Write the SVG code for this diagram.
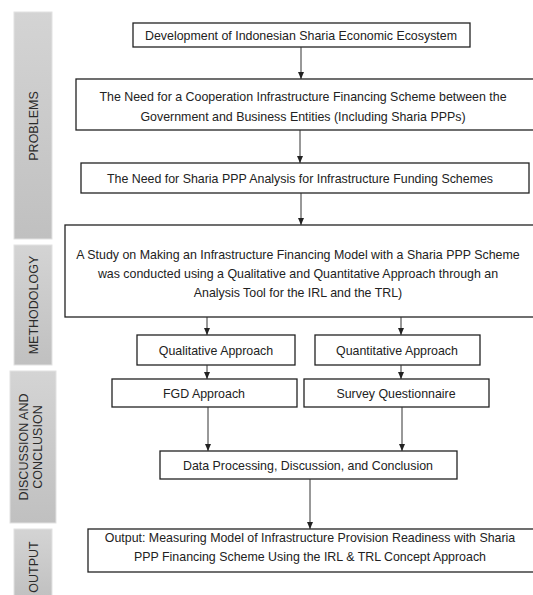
<svg xmlns="http://www.w3.org/2000/svg" width="533" height="595" viewBox="0 0 533 595">
<defs>
<linearGradient id="g" x1="0" y1="0" x2="0" y2="1">
<stop offset="0" stop-color="#d4d4d4"/>
<stop offset="1" stop-color="#c0c0c0"/>
</linearGradient>
<marker id="a" markerWidth="8" markerHeight="8" refX="7" refY="4" orient="auto" markerUnits="userSpaceOnUse">
<path d="M0,1 L7,4 L0,7 Z" fill="#222"/>
</marker>
<style>
.bar{fill:url(#g);stroke:#e2e2e2;stroke-width:1}
.bt{font-family:"Liberation Sans",Arial,sans-serif;font-size:12.5px;fill:#2a2a2a;text-anchor:middle}
.box{fill:#fff;stroke:#222;stroke-width:1.3}
.t{font-family:"Liberation Sans",Arial,sans-serif;font-size:12.4px;fill:#222;text-anchor:middle}
.c{stroke:#333;stroke-width:1;fill:none;marker-end:url(#a)}
</style>
</defs>
<rect width="533" height="595" fill="#fff"/>
<g id="side-problems"><rect class="bar" x="14" y="12" width="38" height="227"/><text class="bt" transform="translate(37.5,126) rotate(-90)">PROBLEMS</text></g>
<g id="side-methodology"><rect class="bar" x="14" y="245" width="38" height="120"/><text class="bt" transform="translate(37.5,305) rotate(-90)">METHODOLOGY</text></g>
<g id="side-discussion"><rect class="bar" x="10" y="371" width="46" height="152"/><text class="bt" transform="translate(28,447) rotate(-90)">DISCUSSION AND</text><text class="bt" transform="translate(42,447) rotate(-90)">CONCLUSION</text></g>
<g id="side-output"><rect class="bar" x="14" y="529" width="38" height="70"/><text class="bt" transform="translate(37.5,567) rotate(-90)">OUTPUT</text></g>

<g id="n1"><rect class="box" x="133" y="23" width="337" height="24"/><text class="t" x="301" y="39.5">Development of Indonesian Sharia Economic Ecosystem</text></g>
<g id="n2"><rect class="box" x="76" y="79" width="460" height="51"/><text class="t" x="303" y="101">The Need for a Cooperation Infrastructure Financing Scheme between the</text><text class="t" x="303" y="121">Government and Business Entities (Including Sharia PPPs)</text></g>
<g id="n3"><rect class="box" x="81" y="163" width="448" height="30"/><text class="t" x="300" y="182.5">The Need for Sharia PPP Analysis for Infrastructure Funding Schemes</text></g>
<g id="n4"><rect class="box" x="65" y="225" width="471" height="92"/><text class="t" x="298" y="259">A Study on Making an Infrastructure Financing Model with a Sharia PPP Scheme</text><text class="t" x="298" y="278">was conducted using a Qualitative and Quantitative Approach through an</text><text class="t" x="298" y="297">Analysis Tool for the IRL and the TRL)</text></g>
<g id="n5"><rect class="box" x="137" y="335" width="158" height="30"/><text class="t" x="216" y="354.5">Qualitative Approach</text></g>
<g id="n6"><rect class="box" x="315" y="335" width="165" height="30"/><text class="t" x="397" y="354.5">Quantitative Approach</text></g>
<g id="n7"><rect class="box" x="112" y="379" width="185" height="28"/><text class="t" x="204" y="397.5">FGD Approach</text></g>
<g id="n8"><rect class="box" x="304" y="379" width="185" height="28"/><text class="t" x="396" y="397.5">Survey Questionnaire</text></g>
<g id="n9"><rect class="box" x="160" y="451" width="297" height="28"/><text class="t" x="308" y="469.5">Data Processing, Discussion, and Conclusion</text></g>
<g id="n10"><rect class="box" x="88" y="529" width="448" height="43"/><text class="t" x="310" y="542">Output: Measuring Model of Infrastructure Provision Readiness with Sharia</text><text class="t" x="310" y="561">PPP Financing Scheme Using the IRL &amp; TRL Concept Approach</text></g>

<g id="connectors">
<line class="c" x1="301" y1="47" x2="301" y2="79"/>
<line class="c" x1="300" y1="130" x2="300" y2="163"/>
<line class="c" x1="301" y1="193" x2="301" y2="225"/>
<line class="c" x1="207" y1="317" x2="207" y2="335"/>
<line class="c" x1="401" y1="317" x2="401" y2="335"/>
<line class="c" x1="207" y1="365" x2="207" y2="379"/>
<line class="c" x1="401" y1="365" x2="401" y2="379"/>
<line class="c" x1="208" y1="407" x2="208" y2="451"/>
<line class="c" x1="402" y1="407" x2="402" y2="451"/>
<line class="c" x1="310" y1="479" x2="310" y2="529"/>
</g>
</svg>
